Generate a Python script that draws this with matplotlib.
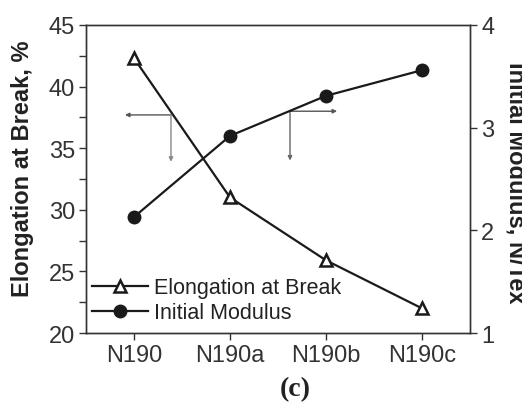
import matplotlib
matplotlib.use("Agg")
import matplotlib.pyplot as plt

categories = ["N190", "N190a", "N190b", "N190c"]
elongation = [42.3, 31.0, 25.9, 22.0]
modulus = [2.13, 2.92, 3.31, 3.56]
left_ticks = [20, 25, 30, 35, 40, 45]
right_ticks = [1, 2, 3, 4]

# annotation arrow anchors (data coords of left axis)
arrow_left = (0.385, 37.7)
arrow_right = (1.625, 38.0)

plt.rcParams['font.family'] = ['Liberation Sans', 'DejaVu Sans']

fig = plt.figure(figsize=(5.22, 4.06), dpi=100)
ax = fig.add_axes([0.1648, 0.1773, 0.7356, 0.7587])
ax2 = ax.twinx()

x = list(range(len(categories)))
l1, = ax.plot(x, elongation, color='#1a1a1a', lw=1.6, marker='^', markersize=8.5,
              markerfacecolor='white', markeredgecolor='#1a1a1a', markeredgewidth=1.8,
              label='Elongation at Break')
l2, = ax2.plot(x, modulus, color='#1a1a1a', lw=1.6, marker='o', markersize=9,
               markerfacecolor='#1a1a1a', markeredgecolor='#1a1a1a',
               label='Initial Modulus')

ax.set_xlim(-0.5, 3.5)
ax.set_ylim(20, 45)
ax2.set_ylim(1, 4)
ax.set_xticks(x)
ax.set_xticklabels(categories)
ax.set_yticks(left_ticks)
ax.set_yticks([22.5, 27.5, 32.5, 37.5, 42.5], minor=True)
ax2.set_yticks(right_ticks)

for a in (ax, ax2):
    for s in a.spines.values():
        s.set_color('#333333')
        s.set_linewidth(1.0)
    a.tick_params(axis='both', which='major', direction='out', length=5, width=1,
                  labelsize=17, colors='#333333', labelcolor='#333333')
ax.tick_params(axis='y', which='minor', direction='out', length=5, width=1, color='#333333')
ax.tick_params(axis='y', pad=3)
ax.tick_params(axis='x', pad=3)
ax2.tick_params(axis='y', pad=3)

ax.set_ylabel('Elongation at Break, %', fontsize=17, fontweight='bold', color='#222222')
ax.yaxis.set_label_coords(-0.135, 0.536)
ax2.set_ylabel('Initial Modulus, N/Tex', fontsize=17, fontweight='bold', color='#222222',
               rotation=270, va='bottom')
ax2.yaxis.set_label_coords(1.091, 0.49)

# arrows
ax.annotate('', xy=(-0.094, arrow_left[1]), xytext=arrow_left,
            arrowprops=dict(arrowstyle='-|>', color='#555555', lw=1.0, mutation_scale=6, shrinkA=0, shrinkB=0))
ax.annotate('', xy=(arrow_left[0], 33.9), xytext=arrow_left,
            arrowprops=dict(arrowstyle='-|>', color='#888888', lw=1.0, mutation_scale=6, shrinkA=0, shrinkB=0))
ax.annotate('', xy=(2.115, arrow_right[1]), xytext=arrow_right,
            arrowprops=dict(arrowstyle='-|>', color='#555555', lw=1.0, mutation_scale=6, shrinkA=0, shrinkB=0))
ax.annotate('', xy=(arrow_right[0], 34.0), xytext=arrow_right,
            arrowprops=dict(arrowstyle='-|>', color='#666666', lw=1.0, mutation_scale=6, shrinkA=0, shrinkB=0))

ax.legend(handles=[l1, l2], loc='lower left', bbox_to_anchor=(0.0, 0.01), frameon=False,
          fontsize=15.5, handlelength=2.56, handletextpad=0.3, labelspacing=0.2,
          borderaxespad=0.0, borderpad=0.3, labelcolor='#222222')

fig.text(0.565, 0.04, '(c)', fontsize=20, fontweight='bold', ha='center', va='center',
         family=['Liberation Serif', 'DejaVu Serif'], color='#222222')

fig.savefig('out.png', dpi=100)
